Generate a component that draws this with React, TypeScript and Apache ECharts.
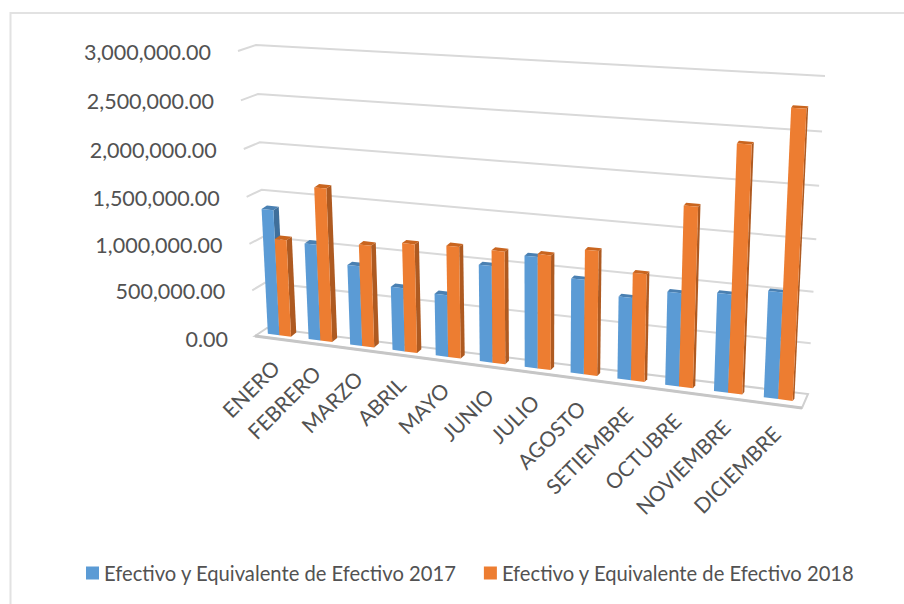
import React, { useEffect, useRef } from "react";
import * as echarts from "echarts";

const categories = ["ENERO", "FEBRERO", "MARZO", "ABRIL", "MAYO", "JUNIO", "JULIO", "AGOSTO", "SETIEMBRE", "OCTUBRE", "NOVIEMBRE", "DICIEMBRE"];
const yTicks = [0, 500000, 1000000, 1500000, 2000000, 2500000, 3000000];
const values2017 = [1350000, 1030000, 850000, 670000, 650000, 1000000, 1140000, 960000, 830000, 930000, 970000, 1040000];
const values2018 = [1045000, 1630000, 1080000, 1140000, 1160000, 1160000, 1170000, 1260000, 1080000, 1780000, 2400000, 2760000];
const name2017 = "Efectivo y Equivalente de Efectivo 2017";
const name2018 = "Efectivo y Equivalente de Efectivo 2018";

const FONT = "Lato, 'Noto Sans', sans-serif";
const TEXT = "#525252";

// Back wall quad: u along categories, v up the value axis
const Q = [[267, 328], [808, 394], [825, 76], [256, 45]];
const H = (() => {
  const [[x0, y0], [x1, y1], [x2, y2], [x3, y3]] = Q;
  const dx1 = x1 - x2, dx2 = x3 - x2, sx = x0 - x1 + x2 - x3;
  const dy1 = y1 - y2, dy2 = y3 - y2, sy = y0 - y1 + y2 - y3;
  const det = dx1 * dy2 - dx2 * dy1;
  const g = (sx * dy2 - dx2 * sy) / det;
  const h = (dx1 * sy - sx * dy1) / det;
  return { a: x1 - x0 + g * x1, b: x3 - x0 + h * x3, c: x0, d: y1 - y0 + g * y1, e: y3 - y0 + h * y3, f: y0, g, h };
})();

// towardFront: 0 = on the back wall, 1 = on the front edge of the floor
function project(u: number, v: number, towardFront: number): [number, number] {
  const w = H.g * u + H.h * v + 1;
  const bx = (H.a * u + H.b * v + H.c) / w;
  const by = (H.d * u + H.e * v + H.f) / w;
  const ox = (1 - u) * ((1 - v) * -12 + v * -18) + u * ((1 - v) * -6 + v * -8);
  const oy = (1 - u) * ((1 - v) * 8 + v * 6) + u * ((1 - v) * 14 + v * 11);
  return [bx + towardFront * ox, by + towardFront * oy];
}

const BAR_PLANE = 0.6;
const BAR_START = 0.2;
const BAR_WIDTH = 0.285;

function uv(params: any, api: any, cat: number, val: number) {
  const cs = params.coordSys;
  const p = api.coord([cat, val]);
  const band = api.size([1, 0])[0] / cs.width;
  return {
    uLeft: (p[0] - cs.x) / cs.width - band / 2,
    band,
    v: (cs.y + cs.height - p[1]) / cs.height,
  };
}

function barRenderer(slot: number, front: string, side: string, top: string) {
  return (params: any, api: any) => {
    const cat = api.value(0);
    const val = api.value(1);
    const { uLeft, band, v } = uv(params, api, cat, val);
    const u0 = uLeft + band * (BAR_START + slot * BAR_WIDTH);
    const u1 = u0 + band * BAR_WIDTH;
    const fbl = project(u0, 0, BAR_PLANE);
    const fbr = project(u1, 0, BAR_PLANE);
    const ftl = project(u0, v, BAR_PLANE);
    const ftr = project(u1, v, BAR_PLANE);
    const dx = 5.5 - 3.8 * u1;
    const dyB = -(4.5 - 2.2 * u1);
    const dyT = -(3.5 - 1 * u1);
    const back = (p: number[], dy: number) => [p[0] + dx, p[1] + dy];
    return {
      type: "group",
      children: [
        { type: "polygon", shape: { points: [fbr, ftr, back(ftr, dyT), back(fbr, dyB)] }, style: { fill: side } },
        { type: "polygon", shape: { points: [ftl, ftr, back(ftr, dyT), back(ftl, dyT)] }, style: { fill: top } },
        { type: "polygon", shape: { points: [fbl, fbr, ftr, ftl] }, style: { fill: front } },
      ],
    };
  };
}

const renderGridLine = (params: any, api: any) => {
  const { v } = uv(params, api, 0, api.value(1));
  const stroke = "#d9d9d9";
  const children: any[] = [];
  if (v < 0.001) {
    children.push({
      type: "polygon",
      shape: { points: [project(0, 0, 1), project(1, 0, 1), project(1, 0, 0), project(0, 0, 0)] },
      style: { fill: "#fff", stroke: "#d0d0d0", lineWidth: 2 },
    });
    children.push({
      type: "line",
      shape: { x1: project(0, 0, 1)[0], y1: project(0, 0, 1)[1], x2: project(1, 0, 1)[0], y2: project(1, 0, 1)[1] },
      style: { stroke: "#c6c6c6", lineWidth: 3 },
    });
  } else {
    children.push({
      type: "polyline",
      shape: { points: [project(0, v, 1), project(0, v, 0), project(1, v, 0)] },
      style: { fill: "none", stroke, lineWidth: 2 },
    });
  }
  const anchor = project(0, v, 1);
  children.push({
    type: "text",
    x: anchor[0] - 27,
    y: anchor[1] + 1 + (v < 0.001 ? 2 : 0),
    style: {
      text: api.value(1).toLocaleString("en-US", { minimumFractionDigits: 2, maximumFractionDigits: 2 }),
      align: "right",
      verticalAlign: "middle",
      font: `21.5px ${FONT}`,
      fill: TEXT,
    },
  });
  return { type: "group", children };
};

const renderCategoryLabel = (params: any, api: any) => {
  const cat = api.value(0);
  const { uLeft, band } = uv(params, api, cat, 0);
  const p = project(uLeft + band * 0.5, 0, 1);
  return {
    type: "text",
    x: p[0],
    y: p[1] + 25,
    rotation: Math.PI / 4,
    style: { text: categories[cat], align: "right", verticalAlign: "middle", font: `21px ${FONT}`, fill: TEXT },
  };
};

export default function App() {
  const ref = useRef<HTMLDivElement>(null);
  useEffect(() => {
    const chart = echarts.init(ref.current!, undefined, { renderer: "svg" });
    chart.setOption({
      animation: false,
      backgroundColor: "#fff",
      graphic: [
        { type: "line", shape: { x1: 10, y1: 13, x2: 904, y2: 13 }, style: { stroke: "#e2e2e2", lineWidth: 2 } },
        { type: "line", shape: { x1: 10.5, y1: 12, x2: 10.5, y2: 604 }, style: { stroke: "#e2e2e2", lineWidth: 2 } },
      ],
      legend: {
        left: 81,
        top: 558,
        itemWidth: 13,
        itemHeight: 13,
        itemGap: 27,
        selectedMode: false,
        icon: "rect",
        data: [name2017, name2018],
        textStyle: { fontFamily: FONT, fontSize: 20.2, color: TEXT },
      },
      grid: { left: 260, top: 45, width: 550, height: 350 },
      xAxis: { type: "category", data: categories, show: false },
      yAxis: { type: "value", min: 0, max: 3000000, interval: 500000, show: false },
      series: [
        {
          type: "custom",
          name: "grid",
          data: yTicks.map((t) => [0, t]),
          encode: { x: 0, y: 1 },
          renderItem: renderGridLine,
          silent: true,
        },
        {
          type: "custom",
          name: "labels",
          data: categories.map((_, i) => [i, 0]),
          encode: { x: 0, y: 1 },
          renderItem: renderCategoryLabel,
          silent: true,
        },
        {
          type: "custom",
          name: name2017,
          itemStyle: { color: "#5B9BD5" },
          data: values2017.map((v, i) => [i, v]),
          encode: { x: 0, y: 1 },
          renderItem: barRenderer(0, "#5B9BD5", "#3F6F9B", "#4A80B2"),
        },
        {
          type: "custom",
          name: name2018,
          itemStyle: { color: "#ED7D31" },
          data: values2018.map((v, i) => [i, v]),
          encode: { x: 0, y: 1 },
          renderItem: barRenderer(1, "#ED7D31", "#AE5A21", "#C9651F"),
        },
      ],
    });
    return () => chart.dispose();
  }, []);
  return <div ref={ref} style={{ position: "fixed", left: 0, top: 0, width: 904, height: 604 }} />;
}
